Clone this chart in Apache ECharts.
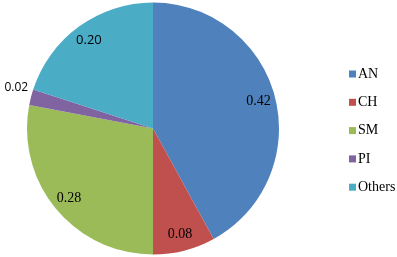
<!DOCTYPE html>
<html><head><meta charset="utf-8">
<script src="https://cdn.jsdelivr.net/npm/echarts@6/dist/echarts.min.js"></script>
<style>html,body{margin:0;padding:0;background:#fff}#c{width:397px;height:257px}</style>
</head><body><div id="c"></div>
<script>
const categories = ['AN', 'CH', 'SM', 'PI', 'Others'];
const values = [0.42, 0.08, 0.28, 0.02, 0.20];
const colors = ['#4F81BD', '#C0504D', '#9BBB59', '#8064A2', '#4BACC6'];

const chart = echarts.init(document.getElementById('c'));
const serif = '"Liberation Serif", "Times New Roman", serif';
const sans = '"Open Sans", "Liberation Sans", sans-serif';
const labelFonts = [serif, serif, serif, sans, sans];

chart.setOption({
  animation: false,
  color: colors,
  legend: {
    orient: 'vertical', left: 344, top: 62,
    itemWidth: 7, itemHeight: 7, itemGap: 14.3, icon: 'rect',
    textStyle: { fontFamily: serif, fontSize: 14, color: '#000', padding: [0, 0, 0, -3] },
    data: categories
  },
  series: [
    {
      type: 'pie', center: [153, 128.5], radius: [0, 126],
      startAngle: 90, clockwise: true, silent: true,
      itemStyle: { borderWidth: 0 },
      label: { show: false },
      labelLine: { show: false },
      labelLayout: { dx: 5, dy: -8 },
      data: categories.map((c, i) => ({
        name: c, value: values[i],
        label: i === 3 ? {
          show: true, position: 'outside', formatter: v => v.value.toFixed(2),
          fontFamily: sans, fontSize: 12, color: '#000', distanceToLabelLine: 0,
          overflow: 'none'
        } : { show: false },
        labelLine: i === 3 ? { show: false, length: 8, length2: 0 } : { show: false }
      }))
    },
    {
      type: 'pie', center: [153, 128.5], radius: [86, 126],
      startAngle: 90, clockwise: true, silent: true,
      itemStyle: { color: 'rgba(0,0,0,0)' },
      label: { show: true, position: 'inside', color: '#000', fontSize: 14,
               formatter: v => v.value.toFixed(2) },
      labelLine: { show: false },
      data: categories.map((c, i) => ({
        name: c, value: values[i],
        label: i === 3 ? { show: false } : { show: true, fontFamily: labelFonts[i], fontSize: i === 4 ? 13 : 14 }
      }))
    }
  ]
});
</script></body></html>
